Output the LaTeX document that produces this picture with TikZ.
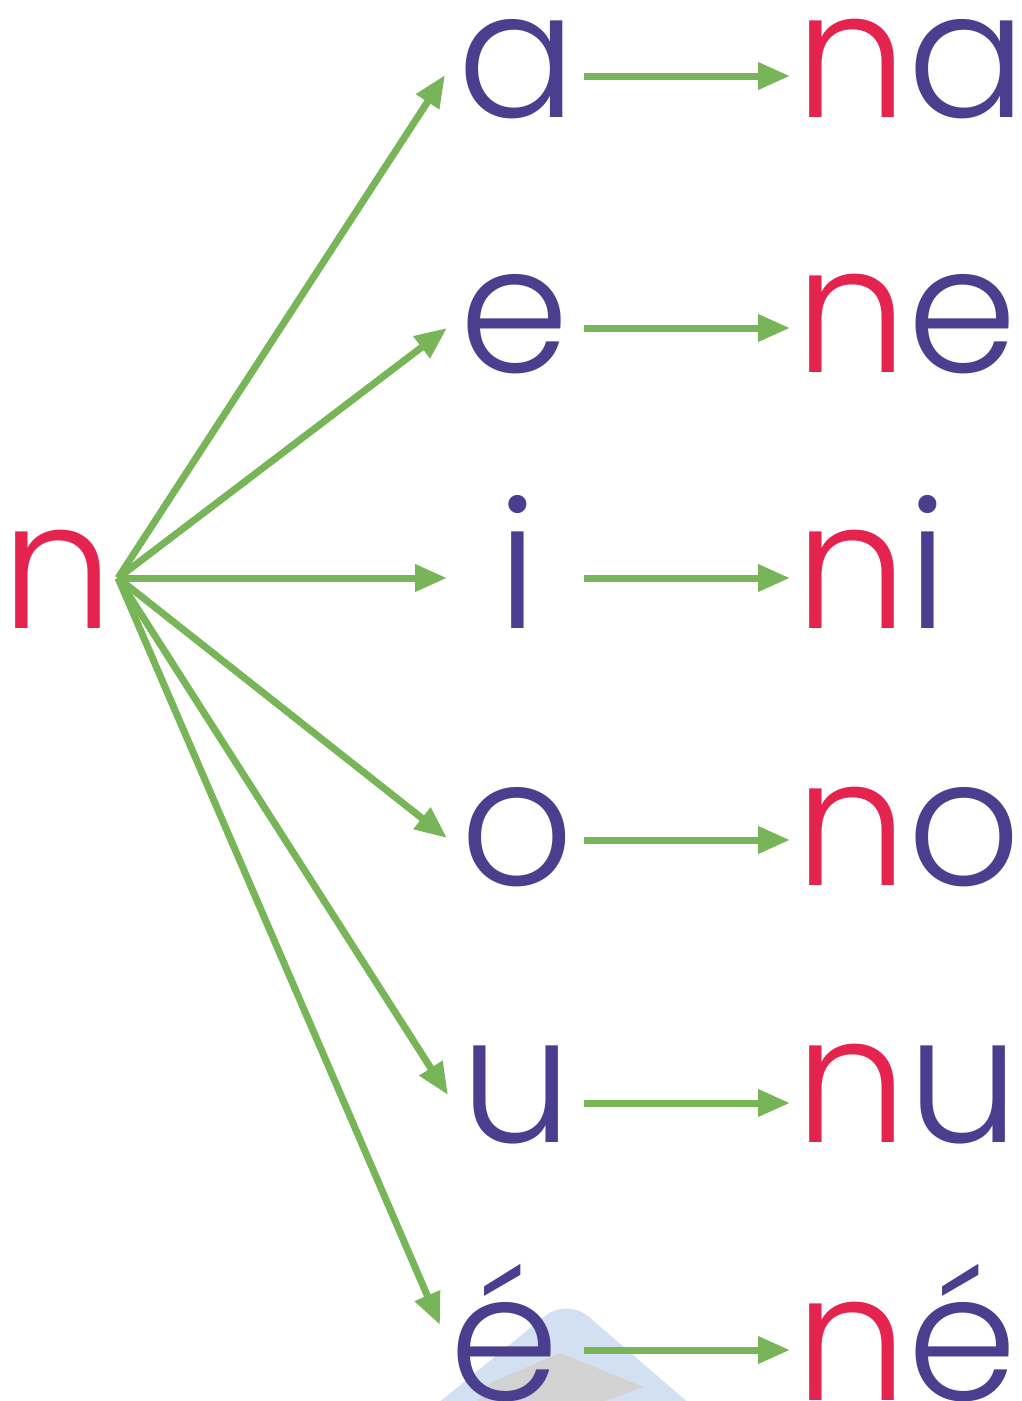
\documentclass[tikz,border=0pt]{standalone}
\usepackage{fontspec}
\setmainfont{Poppins}[UprightFont=* Light]
\usetikzlibrary{arrows.meta}
\definecolor{npurple}{HTML}{4A3E8E}
\definecolor{nred}{HTML}{E5234F}
\definecolor{ngreen}{HTML}{78B558}
\definecolor{wblue}{HTML}{D3E0F2}
\definecolor{wgrey}{HTML}{D2D2D2}
\tikzset{
  x=1pt,y=-1pt,
  letter/.style={inner sep=0pt,anchor=base,font=\fontsize{177}{177}\selectfont},
  word/.style={inner sep=0pt,anchor=base west,font=\fontsize{177}{177}\selectfont},
  arr/.style={draw=ngreen,line width=7pt,-{Triangle[length=32pt,width=26pt]}},
}
\begin{document}
\begin{tikzpicture}
\useasboundingbox (0,0) rectangle (1022,1401);
% watermark
\fill[wblue,rounded corners=28pt] (405,1430) -- (567,1298) -- (720,1430) -- cycle;
\fill[wgrey] (478,1401) -- (490,1383) -- (560,1353) -- (643,1387) -- (605,1401) -- cycle;
% letters
\node[letter,text=nred] (n) at (58,628) {n};
\node[letter,text=npurple] (a) at (517,117) {a};
\node[letter,text=npurple] (e) at (515,372) {e};
\node[letter,text=npurple] (i) at (518,628) {i};
\node[letter,text=npurple] (o) at (517,885) {o};
\node[letter,text=npurple] (u) at (517,1142) {u};
\node[letter,text=npurple] (eac) at (505,1400) {é};
\node[word] (na) at (795,117) {\textcolor{nred}{n}\textcolor{npurple}{a}};
\node[word] (ne) at (795,372) {\textcolor{nred}{n}\textcolor{npurple}{e}};
\node[word] (ni) at (795,628) {\textcolor{nred}{n}\textcolor{npurple}{i}};
\node[word] (no) at (795,885) {\textcolor{nred}{n}\textcolor{npurple}{o}};
\node[word] (nu) at (795,1142) {\textcolor{nred}{n}\textcolor{npurple}{u}};
\node[word] (neac) at (795,1400) {\textcolor{nred}{n}\textcolor{npurple}{é}};
% fan
\coordinate (hub) at (118,578);
\coordinate (ta) at (445,75);
\coordinate (te) at (447,328);
\coordinate (ti) at (447,578);
\coordinate (to) at (447,838);
\coordinate (tu) at (448,1095);
\coordinate (teac) at (440,1325);
\foreach \t in {ta,te,ti,to,tu,teac} \draw[arr] (hub) -- (\t);
% row arrows
\foreach \nm/\yy in {a/76,e/328,i/578,o/840,u/1103,eac/1350}{
  \coordinate (s\nm) at (584,\yy);
  \coordinate (f\nm) at (790,\yy);
  \draw[arr] (s\nm) -- (f\nm);
}
\end{tikzpicture}
\end{document}
